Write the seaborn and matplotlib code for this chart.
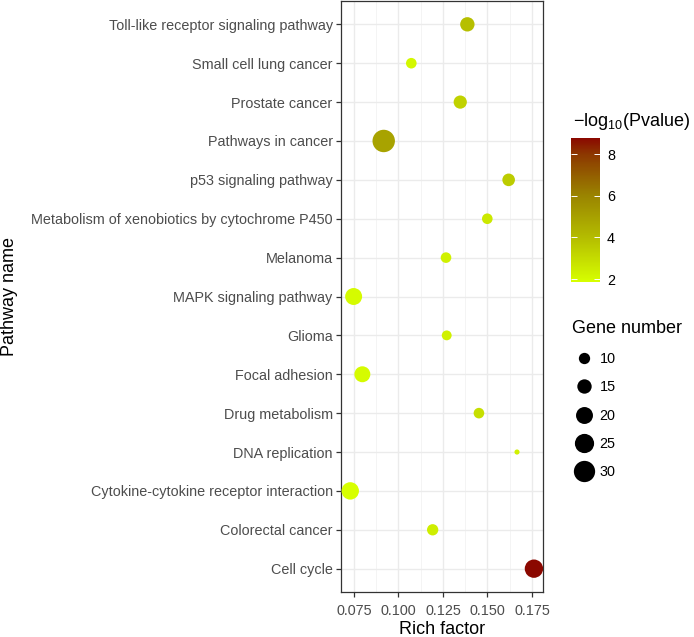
import numpy as np
import pandas as pd
import matplotlib
matplotlib.use("Agg")
import matplotlib.pyplot as plt
import seaborn as sns
from matplotlib.colors import LinearSegmentedColormap, Normalize
from matplotlib.lines import Line2D
from matplotlib.ticker import MultipleLocator

# ---- data (bottom to top) ----
pathways = ["Cell cycle", "Colorectal cancer", "Cytokine-cytokine receptor interaction",
            "DNA replication", "Drug metabolism", "Focal adhesion", "Glioma",
            "MAPK signaling pathway", "Melanoma", "Metabolism of xenobiotics by cytochrome P450",
            "p53 signaling pathway", "Pathways in cancer", "Prostate cancer",
            "Small cell lung cancer", "Toll-like receptor signaling pathway"]
rich_factor = [0.1761, 0.1192, 0.0729, 0.1666, 0.1452, 0.0797, 0.1271,
               0.0748, 0.1267, 0.1499, 0.1619, 0.0917, 0.1347, 0.1072, 0.1387]
gene_number = [23, 10, 21, 3, 9, 18, 8, 20, 9, 9, 12, 33, 13, 9, 15]
neg_log10_p = [8.77, 2.4, 1.86, 2.3, 2.9, 2.0, 2.3, 2.0, 2.3, 2.6, 3.5, 4.9, 3.3, 2.1, 3.9]

x_ticks = [0.075, 0.100, 0.125, 0.150, 0.175]
cbar_ticks = [2, 4, 6, 8]
size_breaks = [10, 15, 20, 25, 30]

df = pd.DataFrame({"Pathway": pathways, "RichFactor": rich_factor,
                   "Gene": gene_number, "P": neg_log10_p})

# ---- colour scale sampled from the reference colour bar ----
stops = [(0.00, (215, 255, 0)), (0.31, (180, 188, 0)), (0.60, (154, 132, 0)),
         (0.89, (140, 55, 0)), (1.00, (139, 8, 0))]
cmap = LinearSegmentedColormap.from_list(
    "yr", [(t, tuple(c / 255 for c in rgb)) for t, rgb in stops])
pmin, pmax = min(neg_log10_p), max(neg_log10_p)
norm = Normalize(pmin, pmax)

# ---- size scale: diameter linear in sqrt(value) ----
def diam_pt(v):
    return (11.3 + 4.31 * (np.sqrt(v) - np.sqrt(10))) * 0.72

size_map = {g: diam_pt(g) ** 2 for g in set(gene_number)}

plt.rcParams["font.family"] = ["Liberation Sans", "DejaVu Sans"]
plt.rcParams["mathtext.fontset"] = "custom"
plt.rcParams["mathtext.rm"] = "Liberation Sans"
plt.rcParams["mathtext.it"] = "Liberation Sans"

fig = plt.figure(figsize=(6.94, 6.37), dpi=100)
ax = fig.add_axes([341 / 694, 1 - 592 / 637, 202 / 694, 591 / 637])

sns.scatterplot(data=df, x="RichFactor", y="Pathway", hue="P", palette=cmap, hue_norm=norm,
                size="Gene", sizes=size_map, linewidth=0, alpha=1, legend=False, ax=ax, zorder=3)

ax.set_xlim(0.0677, 0.1812)
ax.set_ylim(-0.6, len(pathways) - 0.4)
ax.set_xticks(x_ticks)
ax.set_xticklabels([f"{t:.3f}" for t in x_ticks])
ax.xaxis.set_minor_locator(MultipleLocator(0.0125))
ax.set_facecolor("white")
ax.grid(True, which="major", color="#EBEBEB", linewidth=1.0, zorder=0)
ax.grid(True, which="minor", axis="x", color="#F2F2F2", linewidth=0.6, zorder=0)
ax.set_axisbelow(True)
for s in ax.spines.values():
    s.set_color("#333333")
    s.set_linewidth(0.9)
ax.tick_params(axis="both", which="major", length=3.5, width=0.9, color="#333333",
               labelcolor="#4D4D4D", labelsize=10.4, pad=2.5)
ax.tick_params(axis="x", which="major", pad=5)
ax.tick_params(axis="x", which="minor", length=0)
ax.set_xlabel("Rich factor", fontsize=13, color="black")
ax.set_ylabel("Pathway name", fontsize=13, color="black")
ax.xaxis.set_label_coords(0.5, -(621 - 592) / 591)
ax.yaxis.set_label_coords((18 - 341) / 202, 0.5)

# ---- colour bar ----
cax = fig.add_axes([571 / 694, 1 - 282 / 637, 29 / 694, 144 / 637])
sm = plt.cm.ScalarMappable(norm=norm, cmap=cmap)
cb = fig.colorbar(sm, cax=cax, ticks=cbar_ticks)
cb.outline.set_visible(False)
cax.yaxis.set_ticks_position("both")
cax.tick_params(axis="y", direction="in", length=4.2, width=0.7, color="white",
                labelcolor="black", labelsize=10.4, labelleft=False, labelright=True, pad=5)
fig.text(573 / 694, 1 - 122 / 637, r"$-\mathrm{log}_{10}$(Pvalue)", fontsize=13,
         va="center", ha="left")

# ---- size legend ----
handles = [Line2D([], [], marker="o", linestyle="", color="black", markeredgewidth=0,
                  markersize=diam_pt(v)) for v in size_breaks]
leg = fig.legend(handles, [str(v) for v in size_breaks], title="Gene number",
                 loc="upper left", bbox_to_anchor=(565 / 694, 1 - 313 / 637),
                 frameon=False, fontsize=10.4, title_fontsize=13, labelspacing=1.0,
                 handletextpad=0.3, borderpad=0, handlelength=1.6)
leg._legend_box.align = "left"

fig.savefig("out.png", dpi=100, facecolor="white")
